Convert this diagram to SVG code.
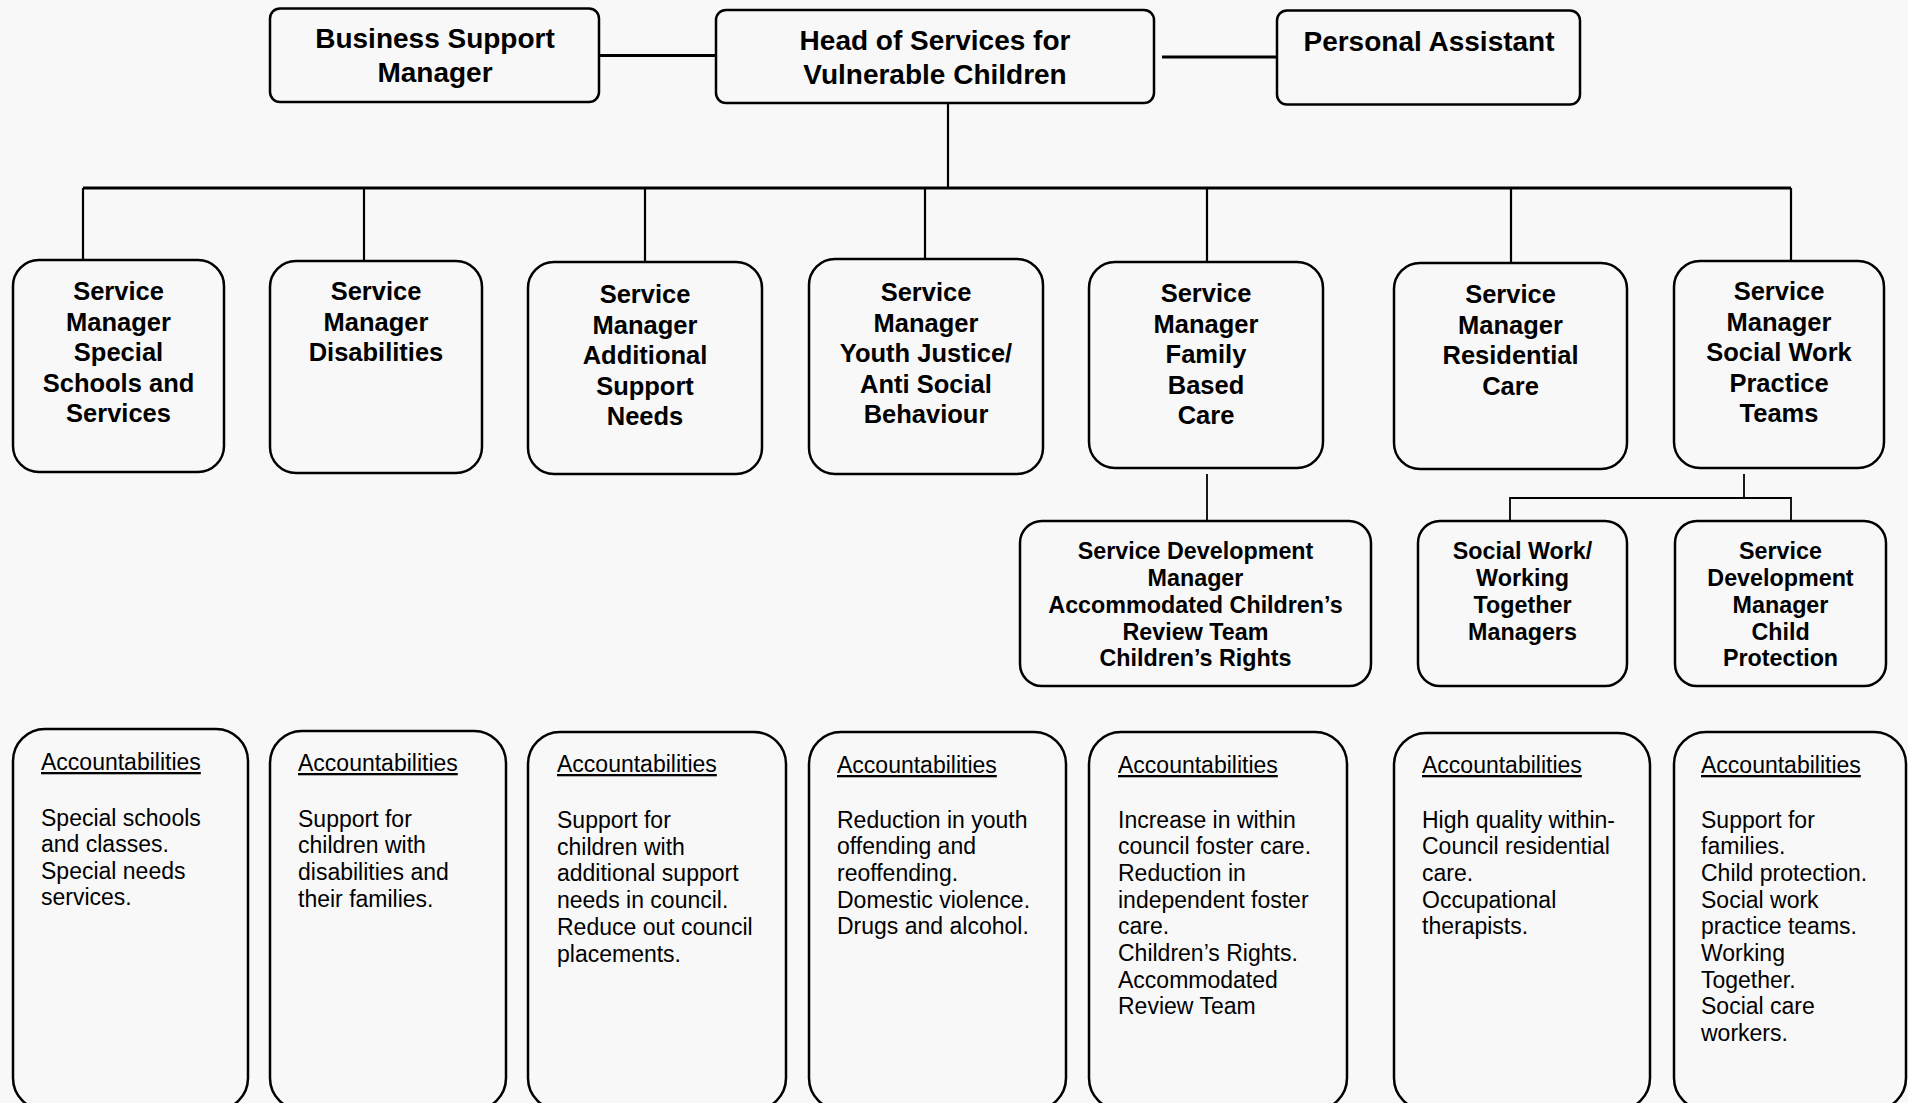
<svg xmlns="http://www.w3.org/2000/svg" width="1908" height="1103" viewBox="0 0 1908 1103">
  <style>
    .box { fill: #f8f8f8; stroke: #000; stroke-width: 2.5; }
    .bus { fill: none; stroke: #000; stroke-width: 3; }
    .link { fill: none; stroke: #000; stroke-width: 2.2; }
    .thin { fill: none; stroke: #000; stroke-width: 1.8; }
    text { font-family: "Liberation Sans", Arial, sans-serif; fill: #000; }
    .t1 { font-size: 28px; font-weight: bold; text-anchor: middle; }
    .t2 { font-size: 25.5px; font-weight: bold; text-anchor: middle; }
    .t3 { font-size: 23.3px; font-weight: bold; text-anchor: middle; }
    .acc { font-size: 23px; }
    .head { text-decoration: underline; }
  </style>
  <rect width="1908" height="1103" fill="#f8f8f8"/>

  <!-- reporting lines -->
  <g id="connectors">
    <line class="bus" x1="599" y1="55.5" x2="716" y2="55.5"/>
    <line class="bus" x1="1162" y1="57" x2="1277" y2="57"/>
    <line class="link" x1="948" y1="103" x2="948" y2="188"/>
    <line class="bus" x1="83" y1="188" x2="1791" y2="188"/>
    <line class="link" x1="83" y1="188" x2="83" y2="260"/>
    <line class="link" x1="364" y1="188" x2="364" y2="261"/>
    <line class="link" x1="645" y1="188" x2="645" y2="262"/>
    <line class="link" x1="925" y1="188" x2="925" y2="259"/>
    <line class="link" x1="1207" y1="188" x2="1207" y2="262"/>
    <line class="link" x1="1511" y1="188" x2="1511" y2="263"/>
    <line class="link" x1="1791" y1="188" x2="1791" y2="261"/>
    <line class="thin" x1="1207" y1="474" x2="1207" y2="521"/>
    <line class="thin" x1="1744" y1="474" x2="1744" y2="498"/>
    <polyline class="thin" points="1510,521 1510,498 1791,498 1791,521"/>
  </g>

  <!-- top tier -->
  <g id="business-support-manager">
    <rect class="box" x="270" y="8.5" width="329" height="93.5" rx="10"/>
    <text class="t1" x="435" y="48">Business Support</text>
    <text class="t1" x="435" y="82">Manager</text>
  </g>
  <g id="head-of-services">
    <rect class="box" x="716" y="10" width="438" height="93" rx="10"/>
    <text class="t1" x="935" y="50">Head of Services for</text>
    <text class="t1" x="935" y="83.5">Vulnerable Children</text>
  </g>
  <g id="personal-assistant">
    <rect class="box" x="1277" y="10.5" width="303" height="94" rx="10"/>
    <text class="t1" x="1429" y="51">Personal Assistant</text>
  </g>

  <!-- service managers -->
  <g id="sm-special-schools">
    <rect class="box" x="13" y="260" width="211" height="212" rx="26"/>
    <text class="t2" x="118.5" y="300">Service</text>
    <text class="t2" x="118.5" y="330.5">Manager</text>
    <text class="t2" x="118.5" y="361">Special</text>
    <text class="t2" x="118.5" y="391.5">Schools and</text>
    <text class="t2" x="118.5" y="422">Services</text>
  </g>
  <g id="sm-disabilities">
    <rect class="box" x="270" y="261" width="212" height="212" rx="26"/>
    <text class="t2" x="376" y="300">Service</text>
    <text class="t2" x="376" y="330.5">Manager</text>
    <text class="t2" x="376" y="361">Disabilities</text>
  </g>
  <g id="sm-additional-support">
    <rect class="box" x="528" y="262" width="234" height="212" rx="26"/>
    <text class="t2" x="645" y="303">Service</text>
    <text class="t2" x="645" y="333.5">Manager</text>
    <text class="t2" x="645" y="364">Additional</text>
    <text class="t2" x="645" y="394.5">Support</text>
    <text class="t2" x="645" y="425">Needs</text>
  </g>
  <g id="sm-youth-justice">
    <rect class="box" x="809" y="259" width="234" height="215" rx="26"/>
    <text class="t2" x="926" y="301">Service</text>
    <text class="t2" x="926" y="331.5">Manager</text>
    <text class="t2" x="926" y="362">Youth Justice/</text>
    <text class="t2" x="926" y="392.5">Anti Social</text>
    <text class="t2" x="926" y="423">Behaviour</text>
  </g>
  <g id="sm-family-based-care">
    <rect class="box" x="1089" y="262" width="234" height="206" rx="26"/>
    <text class="t2" x="1206" y="302">Service</text>
    <text class="t2" x="1206" y="332.5">Manager</text>
    <text class="t2" x="1206" y="363">Family</text>
    <text class="t2" x="1206" y="393.5">Based</text>
    <text class="t2" x="1206" y="424">Care</text>
  </g>
  <g id="sm-residential-care">
    <rect class="box" x="1394" y="263" width="233" height="206" rx="26"/>
    <text class="t2" x="1510.5" y="303">Service</text>
    <text class="t2" x="1510.5" y="333.5">Manager</text>
    <text class="t2" x="1510.5" y="364">Residential</text>
    <text class="t2" x="1510.5" y="394.5">Care</text>
  </g>
  <g id="sm-social-work-teams">
    <rect class="box" x="1674" y="261" width="210" height="207" rx="26"/>
    <text class="t2" x="1779" y="300">Service</text>
    <text class="t2" x="1779" y="330.5">Manager</text>
    <text class="t2" x="1779" y="361">Social Work</text>
    <text class="t2" x="1779" y="391.5">Practice</text>
    <text class="t2" x="1779" y="422">Teams</text>
  </g>

  <!-- development managers -->
  <g id="sdm-childrens-rights">
    <rect class="box" x="1020" y="521" width="351" height="165" rx="22"/>
    <text class="t3" x="1195.5" y="559">Service Development</text>
    <text class="t3" x="1195.5" y="586">Manager</text>
    <text class="t3" x="1195.5" y="612.5">Accommodated Children’s</text>
    <text class="t3" x="1195.5" y="639.5">Review Team</text>
    <text class="t3" x="1195.5" y="666">Children’s Rights</text>
  </g>
  <g id="working-together-managers">
    <rect class="box" x="1418" y="521" width="209" height="165" rx="22"/>
    <text class="t3" x="1522.5" y="559">Social Work/</text>
    <text class="t3" x="1522.5" y="586">Working</text>
    <text class="t3" x="1522.5" y="612.5">Together</text>
    <text class="t3" x="1522.5" y="639.5">Managers</text>
  </g>
  <g id="sdm-child-protection">
    <rect class="box" x="1675" y="521" width="211" height="165" rx="22"/>
    <text class="t3" x="1780.5" y="559">Service</text>
    <text class="t3" x="1780.5" y="586">Development</text>
    <text class="t3" x="1780.5" y="612.5">Manager</text>
    <text class="t3" x="1780.5" y="639.5">Child</text>
    <text class="t3" x="1780.5" y="666">Protection</text>
  </g>

  <!-- accountabilities -->
  <g id="acc-special-schools">
    <rect class="box" x="13" y="729" width="235" height="381" rx="32"/>
    <text class="acc head" x="41" y="770">Accountabilities</text>
    <text class="acc" x="41" y="825.5">Special schools</text>
    <text class="acc" x="41" y="852">and classes.</text>
    <text class="acc" x="41" y="878.7">Special needs</text>
    <text class="acc" x="41" y="905.4">services.</text>
  </g>
  <g id="acc-disabilities">
    <rect class="box" x="270" y="731" width="236" height="379" rx="32"/>
    <text class="acc head" x="298" y="771">Accountabilities</text>
    <text class="acc" x="298" y="826.5">Support for</text>
    <text class="acc" x="298" y="853.2">children with</text>
    <text class="acc" x="298" y="879.9">disabilities and</text>
    <text class="acc" x="298" y="906.6">their families.</text>
  </g>
  <g id="acc-additional-support">
    <rect class="box" x="528" y="732" width="258" height="378" rx="32"/>
    <text class="acc head" x="557" y="772">Accountabilities</text>
    <text class="acc" x="557" y="828">Support for</text>
    <text class="acc" x="557" y="854.7">children with</text>
    <text class="acc" x="557" y="881.4">additional support</text>
    <text class="acc" x="557" y="908.1">needs in council.</text>
    <text class="acc" x="557" y="934.8">Reduce out council</text>
    <text class="acc" x="557" y="961.5">placements.</text>
  </g>
  <g id="acc-youth-justice">
    <rect class="box" x="809" y="732" width="257" height="378" rx="32"/>
    <text class="acc head" x="837" y="773">Accountabilities</text>
    <text class="acc" x="837" y="827.5">Reduction in youth</text>
    <text class="acc" x="837" y="854.2">offending and</text>
    <text class="acc" x="837" y="880.9">reoffending.</text>
    <text class="acc" x="837" y="907.6">Domestic violence.</text>
    <text class="acc" x="837" y="934.3">Drugs and alcohol.</text>
  </g>
  <g id="acc-family-based-care">
    <rect class="box" x="1089" y="732" width="258" height="378" rx="32"/>
    <text class="acc head" x="1118" y="773">Accountabilities</text>
    <text class="acc" x="1118" y="827.5">Increase in within</text>
    <text class="acc" x="1118" y="854.2">council foster care.</text>
    <text class="acc" x="1118" y="880.9">Reduction in</text>
    <text class="acc" x="1118" y="907.6">independent foster</text>
    <text class="acc" x="1118" y="934.3">care.</text>
    <text class="acc" x="1118" y="961">Children’s Rights.</text>
    <text class="acc" x="1118" y="987.7">Accommodated</text>
    <text class="acc" x="1118" y="1014.4">Review Team</text>
  </g>
  <g id="acc-residential-care">
    <rect class="box" x="1394" y="733" width="256" height="377" rx="32"/>
    <text class="acc head" x="1422" y="773">Accountabilities</text>
    <text class="acc" x="1422" y="827.5">High quality within-</text>
    <text class="acc" x="1422" y="854.2">Council residential</text>
    <text class="acc" x="1422" y="880.9">care.</text>
    <text class="acc" x="1422" y="907.6">Occupational</text>
    <text class="acc" x="1422" y="934.3">therapists.</text>
  </g>
  <g id="acc-social-work-teams">
    <rect class="box" x="1674" y="732" width="232" height="378" rx="32"/>
    <text class="acc head" x="1701" y="773">Accountabilities</text>
    <text class="acc" x="1701" y="827.5">Support for</text>
    <text class="acc" x="1701" y="854.2">families.</text>
    <text class="acc" x="1701" y="880.9">Child protection.</text>
    <text class="acc" x="1701" y="907.6">Social work</text>
    <text class="acc" x="1701" y="934.3">practice teams.</text>
    <text class="acc" x="1701" y="961">Working</text>
    <text class="acc" x="1701" y="987.7">Together.</text>
    <text class="acc" x="1701" y="1014.4">Social care</text>
    <text class="acc" x="1701" y="1041.1">workers.</text>
  </g>
</svg>
